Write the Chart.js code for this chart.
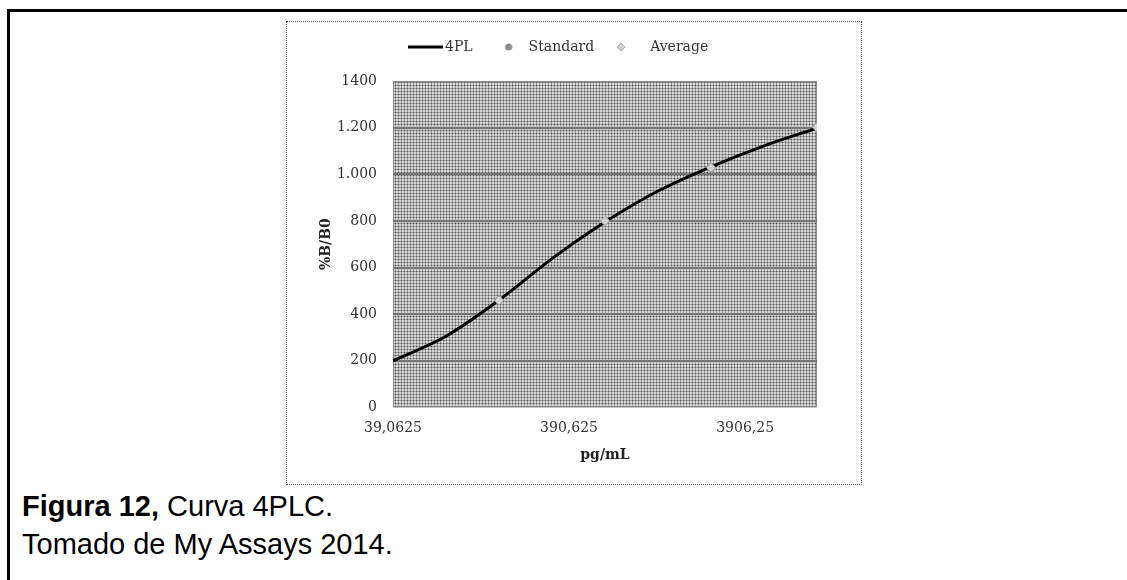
<!DOCTYPE html>
<html>
<head>
<meta charset="utf-8">
<script src="https://cdn.jsdelivr.net/npm/chart.js@4.4.1/dist/chart.umd.min.js"></script>
<style>
  body { margin: 0; width: 1127px; height: 580px; overflow: hidden; background: #fff; position: relative; }
  #frame { position: absolute; left: 7px; top: 9px; width: 1140px; height: 600px; border-top: 3px solid #000; border-left: 3px solid #000; }
  #box { position: absolute; left: 286px; top: 21px; width: 574px; height: 462px; border: 1px dotted #555; }
  #box canvas { display: block; }
  .cap { position: absolute; left: 22px; font-family: "Liberation Sans", Arial, sans-serif; font-size: 29px; line-height: 32px; color: #000; white-space: nowrap; }
</style>
</head>
<body>
<div id="frame"></div>
<div id="box"><canvas id="curveChart" width="574" height="462"></canvas></div>
<div class="cap" style="top:490px"><b>Figura 12,</b> Curva 4PLC.</div>
<div class="cap" style="top:528px">Tomado de My Assays 2014.</div>
<script>
// values
const curveX = [39.0625, 78.125, 156.25, 312.5, 625, 1250, 2500, 5000, 10000];
const curveY = [200, 305, 460, 638, 795, 928, 1032, 1122, 1198];
const standardX = [156.25, 625, 2500, 10000];
const standardY = [459, 800, 1028, 1202];
const averageY = [459, 800, 1028, 1202];
const xTicks = [39.0625, 390.625, 3906.25];
const xLabels = ['39,0625', '390,625', '3906,25'];
const yTicks = [0, 200, 400, 600, 800, 1000, 1200, 1400];
const yLabels = ['0', '200', '400', '600', '800', '1.000', '1.200', '1400'];

Chart.defaults.font.family = '"DejaVu Serif", serif';
Chart.defaults.font.size = 14;
Chart.defaults.color = '#333';

function icon(w, h, draw) {
  const c = document.createElement('canvas');
  c.width = w; c.height = h;
  draw(c.getContext('2d'));
  return c;
}
const lineIcon = icon(42, 6, g => { g.fillStyle = '#000'; g.fillRect(7, 1.5, 35, 3); });
const stdIcon = icon(16, 10, g => {
  g.fillStyle = '#8a8a8a'; g.beginPath(); g.arc(11, 5, 3.5, 0, Math.PI * 2); g.fill();
});
const avgIcon = icon(30, 10, g => {
  g.fillStyle = '#cfcfcf'; g.strokeStyle = '#a8a8a8'; g.lineWidth = 1;
  g.beginPath(); g.moveTo(9, 1); g.lineTo(13, 5); g.lineTo(9, 9); g.lineTo(5, 5); g.closePath();
  g.fill(); g.stroke();
});
const legendIcons = [lineIcon, stdIcon, avgIcon];

// dithered grey plot background
const tile = icon(3, 3, g => {
  g.fillStyle = '#d4d4d4'; g.fillRect(0, 0, 3, 3);
  g.fillStyle = '#9c9c9c'; g.fillRect(0, 0, 3, 1); g.fillRect(0, 0, 1, 3);
  g.fillStyle = '#555'; g.fillRect(0, 0, 1, 1);
});

const plotBack = {
  id: 'plotBack',
  afterLayout(chart) {
    // place legend like the original (left of centre, near top)
    const lg = chart.legend;
    const w = lg.right - lg.left;
    lg.left = 102;
    lg.right = 102 + w;
    lg.top -= 17;
    lg.bottom -= 17;
  },
  beforeDraw(chart) {
    const { ctx, chartArea: a } = chart;
    ctx.save();
    ctx.fillStyle = ctx.createPattern(tile, 'repeat');
    ctx.fillRect(a.left, a.top, a.right - a.left, a.bottom - a.top);
    ctx.strokeStyle = '#8a8a8a';
    ctx.lineWidth = 1;
    ctx.strokeRect(a.left + 0.5, a.top + 0.5, a.right - a.left - 1, a.bottom - a.top - 1);
    ctx.restore();
  }
};

const ctx = document.getElementById('curveChart');

const data = {
  datasets: [{
    label: '4PL',
    data: curveX.map((x, i) => ({ x: x, y: curveY[i] })),
    showLine: true,
    borderColor: '#000',
    borderWidth: 3,
    pointRadius: 0,
    cubicInterpolationMode: 'monotone',
    order: 3
  }, {
    label: 'Standard',
    data: standardX.map((x, i) => ({ x: x, y: standardY[i] })),
    backgroundColor: '#8a8a8a',
    borderColor: '#8a8a8a',
    pointRadius: 3.5,
    order: 2
  }, {
    label: 'Average',
    data: standardX.map((x, i) => ({ x: x, y: averageY[i] })),
    pointStyle: 'rectRot',
    backgroundColor: 'rgba(220,220,220,0.9)',
    borderColor: '#a8a8a8',
    borderWidth: 1,
    pointRadius: 4.5,
    order: 1
  }]
};

const config = {
  type: 'scatter',
  data: data,
  plugins: [plotBack],
  options: {
    responsive: false,
    animation: false,
    layout: { padding: { left: 31, right: 44, top: 18, bottom: 16 } },
    plugins: {
      tooltip: { enabled: false },
      legend: {
        position: 'top',
        align: 'start',
        labels: {
          usePointStyle: true,
          pointStyleWidth: 32,
          boxHeight: 8,
          padding: 17,
          color: '#333',
          generateLabels(chart) {
            const items = Chart.defaults.plugins.legend.labels.generateLabels(chart);
            items.sort((a, b) => a.datasetIndex - b.datasetIndex);
            items.forEach(it => { it.pointStyle = legendIcons[it.datasetIndex]; });
            return items;
          }
        }
      }
    },
    scales: {
      x: {
        type: 'logarithmic',
        min: 39.0625,
        max: 10000,
        afterBuildTicks(scale) { scale.ticks = xTicks.map(v => ({ value: v })); },
        ticks: {
          autoSkip: false,
          maxRotation: 0,
          padding: 13,
          callback: (v, i) => xLabels[i]
        },
        grid: { display: false, drawTicks: false },
        border: { display: false },
        title: { display: true, text: 'pg/mL', color: '#222', font: { weight: 'bold', size: 14 }, padding: { top: -3, bottom: 4 } }
      },
      y: {
        min: 0,
        max: 1400,
        afterBuildTicks(scale) { scale.ticks = yTicks.map(v => ({ value: v })); },
        afterFit(scale) { scale.width = 75; },
        ticks: {
          padding: 16,
          callback: (v, i) => yLabels[i]
        },
        grid: {
          drawTicks: false,
          lineWidth: 2,
          color: c => (c.tick && (c.tick.value === 0 || c.tick.value === 1400)) ? 'rgba(0,0,0,0)' : '#767676'
        },
        border: { display: false },
        title: { display: true, text: '%B/B0', color: '#222', font: { weight: 'bold', size: 14 }, padding: { top: 0, bottom: 8 } }
      }
    }
  }
};

new Chart(ctx, config);
</script>
</body>
</html>
